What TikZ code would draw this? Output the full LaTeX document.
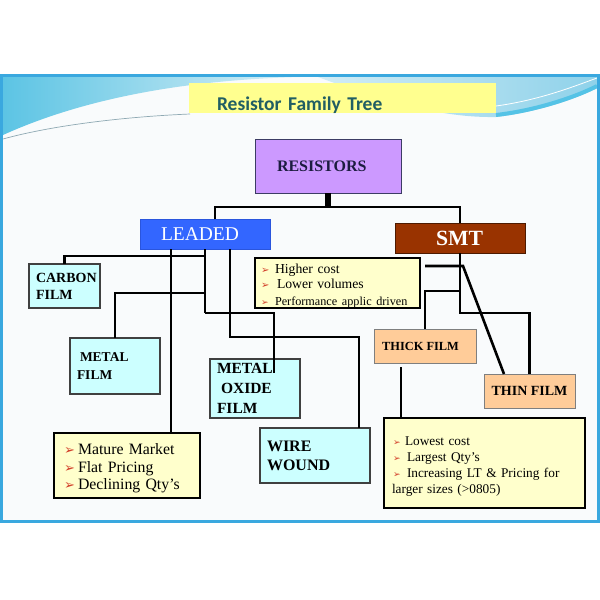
\documentclass[tikz,border=0pt]{standalone}
\usepackage{fontspec}
\setmainfont{Liberation Serif}
\newfontfamily\titlefont{Carlito}
\newfontfamily\symfont{DejaVu Sans}
\usetikzlibrary{calc}
\definecolor{frameblue}{HTML}{3AA8DF}
\definecolor{innerbg}{HTML}{F9FBFC}
\definecolor{swA}{HTML}{5CC4E4}
\definecolor{swB}{HTML}{D8EFF6}
\definecolor{swC}{HTML}{D2ECF5}
\definecolor{swD}{HTML}{8FD2EA}
\definecolor{swE}{HTML}{55C3E6}
\definecolor{swline}{HTML}{8FA9B3}
\definecolor{boxcyan}{HTML}{CCFFFF}
\definecolor{boxedge}{HTML}{404040}
\definecolor{noteyellow}{HTML}{FFFFCC}
\definecolor{peach}{HTML}{FFCC99}
\definecolor{peachedge}{HTML}{7F7F7F}
\definecolor{resviolet}{HTML}{CC99FF}
\definecolor{resedge}{HTML}{3C3C64}
\definecolor{resnavy}{HTML}{1C1C40}
\definecolor{leadblue}{HTML}{3366FF}
\definecolor{leadedge}{HTML}{2A55DD}
\definecolor{smtbrown}{HTML}{993300}
\definecolor{smtedge}{HTML}{4D1A00}
\definecolor{titleyellow}{HTML}{FFFF8F}
\definecolor{titleteal}{HTML}{215E63}
\definecolor{bulred}{HTML}{D2402A}
\newcommand\fsz[2]{\fontsize{#1}{#2}\selectfont}
\newcommand\bul[2]{\makebox[#2][l]{{\symfont\fontsize{#1}{#1}\selectfont\textcolor{bulred}{➢}}}}
\begin{document}
\begin{tikzpicture}[x=1pt,y=-1pt,
  conn/.style={line width=2.6pt, black},
  box/.style={rectangle, anchor=north west, inner ysep=0pt, outer sep=0pt, align=left},
  cyanbox/.style={box, fill=boxcyan, draw=boxedge, line width=1.2pt},
  notebox/.style={box, fill=noteyellow, draw=black, line width=1.8pt},
  peachbox/.style={box, fill=peach, draw=peachedge, line width=1pt},
]
\useasboundingbox (0,0) rectangle (600,600);
\fill[white] (0,0) rectangle (600,600);
\fill[innerbg] (3,77) rectangle (597,520);
\begin{scope}
  \clip (3,77) rectangle (597,520);
  \shade[left color=swA, right color=swB] (3,77) -- (300,77) .. controls (180,80) and (80,100) .. (3,135) -- cycle;
  \draw[swline, line width=0.7pt] (3,139) .. controls (50,126) and (120,117) .. (190,114);
  \shade[left color=swC, right color=swD] (318,77) .. controls (380,100) and (440,118) .. (496,117) .. controls (540,112) and (580,97) .. (597,88) -- (597,77) -- cycle;
  \draw[swE, line width=4pt] (496,115) .. controls (540,110) and (580,95) .. (597,86);
  \draw[white, line width=0.8pt] (496,106) .. controls (540,100) and (575,86) .. (597,78);
\end{scope}
\draw[frameblue, line width=3pt] (1.5,75.5) rectangle (598.5,521.5);

% boxes
\node[box, fill=titleyellow, inner xsep=28pt, text width=251pt, text height=27pt, text depth=3pt,
  font=\titlefont\bfseries\fsz{19.5}{22}, text=titleteal] (title) at (189,83) {Resistor Family Tree};
\node[box, fill=resviolet, draw=resedge, line width=1pt, minimum width=146pt, minimum height=54pt,
  inner xsep=22pt, text width=102pt, font=\bfseries\fsz{16}{18}, text=resnavy] (res) at (255,139) {RESISTORS};
\node[box, fill=leadblue, draw=leadedge, line width=0.8pt, minimum width=130pt, minimum height=30pt,
  inner xsep=21pt, text width=88pt, font=\fsz{19.5}{22}, text=white] (lead) at (140,219) {LEADED};
\node[box, fill=smtbrown, draw=smtedge, line width=1pt, minimum width=130pt, minimum height=30pt,
  inner xsep=41pt, text width=48pt, font=\bfseries\fsz{21.7}{24}, text=white] (smt) at (395,223) {SMT};

\node[cyanbox, minimum width=71pt, minimum height=44pt, inner xsep=7pt, text width=57pt,
  font=\bfseries\fsz{14}{17}] (carbon) at (29,264) {CARBON\\FILM};
\node[cyanbox, minimum width=90pt, minimum height=56pt, inner xsep=7pt, text width=76pt,
  font=\bfseries\fsz{13.5}{18}] (metal) at (70,338) {\hspace*{3pt}METAL\\FILM};
\node[cyanbox, minimum width=90pt, minimum height=59pt, inner xsep=7pt, text width=76pt,
  font=\bfseries\fsz{15.5}{20}] (oxide) at (210,359) {METAL\\\hspace*{4pt}OXIDE\\FILM};
\node[cyanbox, minimum width=110pt, minimum height=55pt, inner xsep=7pt, text width=96pt,
  font=\bfseries\fsz{16}{19}] (wire) at (260,428) {WIRE\\WOUND};

\node[peachbox, minimum width=102pt, minimum height=34pt, inner xsep=0pt,
  font=\bfseries\fsz{12.4}{14}] (thick) at (374,329) {THICK FILM\hspace*{9pt}};
\node[peachbox, minimum width=91pt, minimum height=34pt, inner xsep=0pt,
  font=\bfseries\fsz{14}{16}] (thin) at (484,374) {THIN FILM};

\node[notebox, minimum width=165pt, minimum height=50pt, inner xsep=6pt, text width=153pt,
  font=\fsz{13.7}{15}] (higher) at (255,258)
  {\rule{0pt}{15.5pt}\bul{10}{14pt}Higher cost\\
   \bul{10}{14pt}\hspace*{2pt}Lower volumes\\[2pt]
   {\fsz{12.2}{14}\bul{9}{14pt}Performance applic driven}};
\node[notebox, minimum width=146pt, minimum height=65pt, inner xsep=10pt, text width=126pt,
  font=\fsz{15.8}{17.5}] (mature) at (54,433)
  {\rule{0pt}{17pt}\bul{13}{14pt}Mature Market\\
   \bul{13}{14pt}Flat Pricing\\
   \bul{13}{14pt}Declining Qty’s};
\node[notebox, minimum width=201pt, minimum height=90pt, inner xsep=8pt, text width=185pt,
  font=\fsz{13.3}{16}] (low) at (384,418)
  {\rule{0pt}{15pt}\hspace*{1pt}\bul{9}{12pt}Lowest cost\\
   \hspace*{1pt}\bul{9}{14pt}Largest Qty’s\\
   \hspace*{1pt}\bul{9}{14pt}Increasing LT \& Pricing for\\
   larger sizes (>0805)};

% connectors
\coordinate (rj) at (326,207);
\draw[line width=6pt] (res.south) -- (res.south |- rj);
\draw[conn] ([xshift=10pt]lead.north) |- (rj) -| (smt.north);

\coordinate (lj1) at (205,256);
\coordinate (lj2) at (205,293);
\coordinate (lj3) at (205,313);
\draw[conn] (lead.south) -- (lj3);
\draw[conn] (lj1) -| (carbon.north);
\draw[conn] (lj2) -| (metal.north);
\coordinate (oxend) at ([xshift=19pt,yshift=-14pt]oxide.north);
\draw[conn] (lj3) -| (oxend);
\coordinate (lx1) at ([xshift=-34pt]lead.south);
\draw[conn] (lx1) -- (lx1 |- mature.north);
\coordinate (lx2) at ([xshift=25pt]lead.south);
\coordinate (lj4) at (230,337);
\coordinate (wx) at ([xshift=44pt]wire.north);
\draw[conn] (lx2) -- (lj4) -| (wx);

\coordinate (sj1) at (460,291);
\coordinate (sj2) at (460,313);
\draw[conn] (smt.south) -- (sj2) -| (thin.north);
\draw[conn] (sj1) -| (thick.north);
\coordinate (sf) at (425,266);
\coordinate (sb) at (463,266);
\draw[conn] (sf) -- (sb) -- ([xshift=-25.5pt]thin.north);
\coordinate (tk) at ([xshift=-24pt,yshift=-4pt]thick.south);
\draw[line width=2pt] (tk) -- (tk |- low.north);
\end{tikzpicture}
\end{document}
